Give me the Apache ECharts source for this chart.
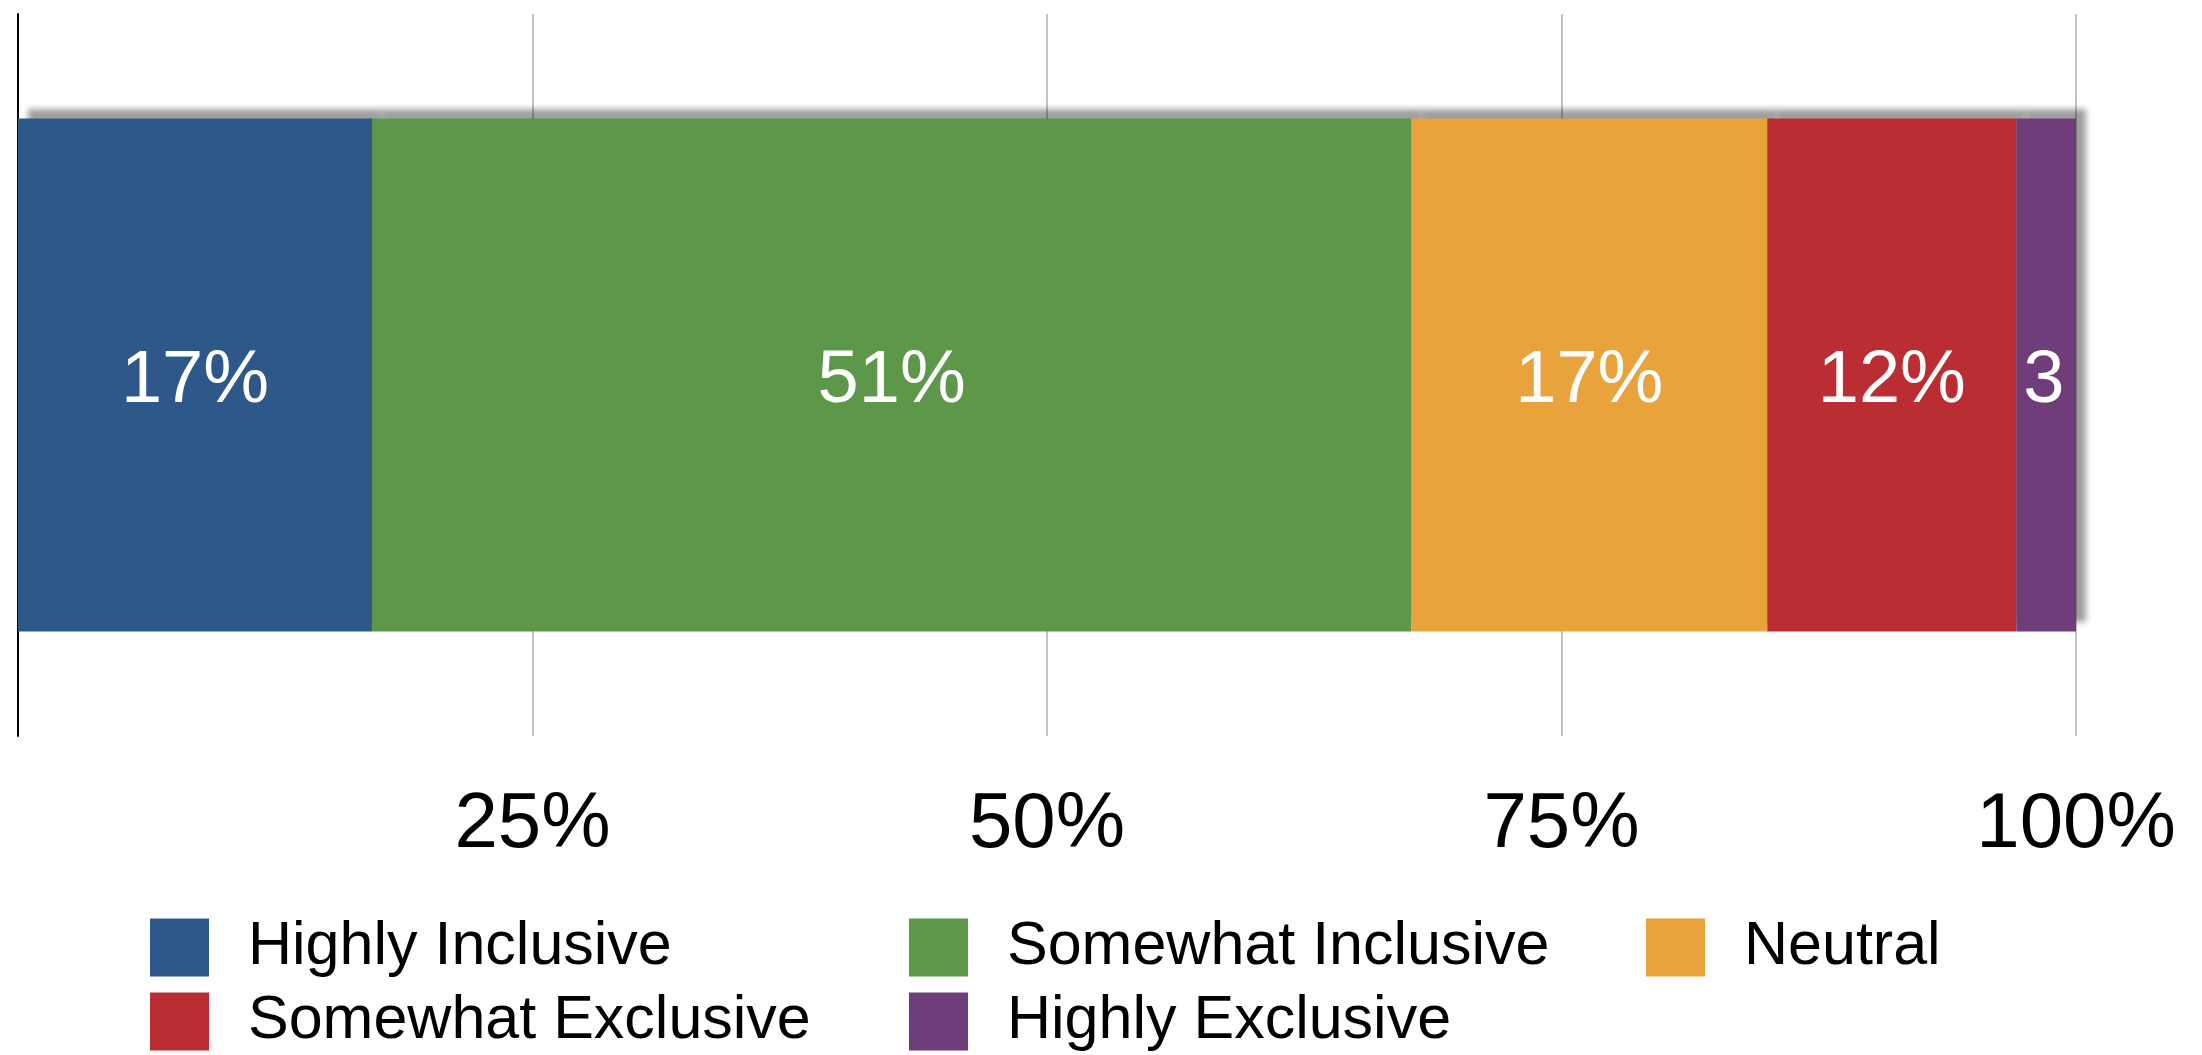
<!DOCTYPE html>
<html>
<head>
<meta charset="utf-8">
<script src="https://cdn.jsdelivr.net/npm/echarts@6/dist/echarts.min.js"></script>
<style>
  html, body { margin: 0; padding: 0; background: #fff; }
  #chart { width: 2202px; height: 1055px; }
</style>
</head>
<body>
<div id="chart"></div>
<script>
// one stacked bar, five response groups
var categories = ['Inclusion'];
var seriesNames = ['Highly Inclusive', 'Somewhat Inclusive', 'Neutral', 'Somewhat Exclusive', 'Highly Exclusive'];
var values = [17.2, 50.5, 17.3, 12.1, 2.9];
var valueLabels = ['17%', '51%', '17%', '12%', '3%'];
var colors = ['#2e5889', '#5c974a', '#e8a33d', '#ba2d32', '#6e3d7a'];

var fontFamily = "'Liberation Sans', Arial, sans-serif";

function makeSeries() {
    var list = [];
    for (var i = 0; i < seriesNames.length; i++) {
        var lbl = {
            show: true,
            position: 'inside',
            offset: [0, 7],
            color: '#fff',
            fontSize: 74,
            fontFamily: fontFamily,
            formatter: valueLabels[i]
        };
        if (i === seriesNames.length - 1) {
            // label does not fit in the thin last segment: left aligned and cut off
            lbl.position = 'insideLeft';
            lbl.distance = 7;
            lbl.width = 60;
            lbl.overflow = 'truncate';
            lbl.ellipsis = '\u200b';
        }
        list.push({
            name: seriesNames[i],
            type: 'bar',
            stack: 'total',
            barWidth: 513,
            data: [values[i]],
            itemStyle: {
                color: colors[i],
                shadowColor: 'rgba(0,0,0,0.38)',
                shadowBlur: 6,
                shadowOffsetX: 10,
                shadowOffsetY: -10
            },
            label: lbl
        });
    }
    return list;
}

var legendText = {
    fontSize: 61,
    lineHeight: 58,
    color: '#000',
    fontFamily: fontFamily,
    padding: [0, 0, 0, 34]
};
function makeLegend(left, names) {
    return {
        left: left,
        top: 917,
        height: 140,
        orient: 'vertical',
        icon: 'rect',
        itemWidth: 59,
        itemHeight: 58,
        itemGap: 13,
        padding: 0,
        selectedMode: false,
        data: names,
        textStyle: legendText
    };
}

var myChart = echarts.init(document.getElementById('chart'));
var option = {
    backgroundColor: '#ffffff',
    animation: false,
    grid: {
        left: 18,
        right: 126,
        top: 14,
        bottom: 319
    },
    legend: [
        makeLegend(150, [seriesNames[0], seriesNames[3]]),
        makeLegend(909, [seriesNames[1], seriesNames[4]]),
        makeLegend(1646, [seriesNames[2]])
    ],
    xAxis: {
        type: 'value',
        min: 0,
        max: 100,
        interval: 25,
        axisLine: {show: false},
        axisTick: {show: false},
        splitLine: {
            show: true,
            lineStyle: {color: '#c2c2c2', width: 2}
        },
        axisLabel: {
            fontSize: 78,
            color: '#000',
            fontFamily: fontFamily,
            margin: 50,
            formatter: function (v) {
                return v === 0 ? '' : v + '%';
            }
        }
    },
    yAxis: {
        type: 'category',
        data: categories,
        axisLine: {show: true, lineStyle: {color: '#000', width: 2}},
        axisTick: {show: false},
        axisLabel: {show: false}
    },
    series: makeSeries()
};
myChart.setOption(option);
</script>
</body>
</html>
